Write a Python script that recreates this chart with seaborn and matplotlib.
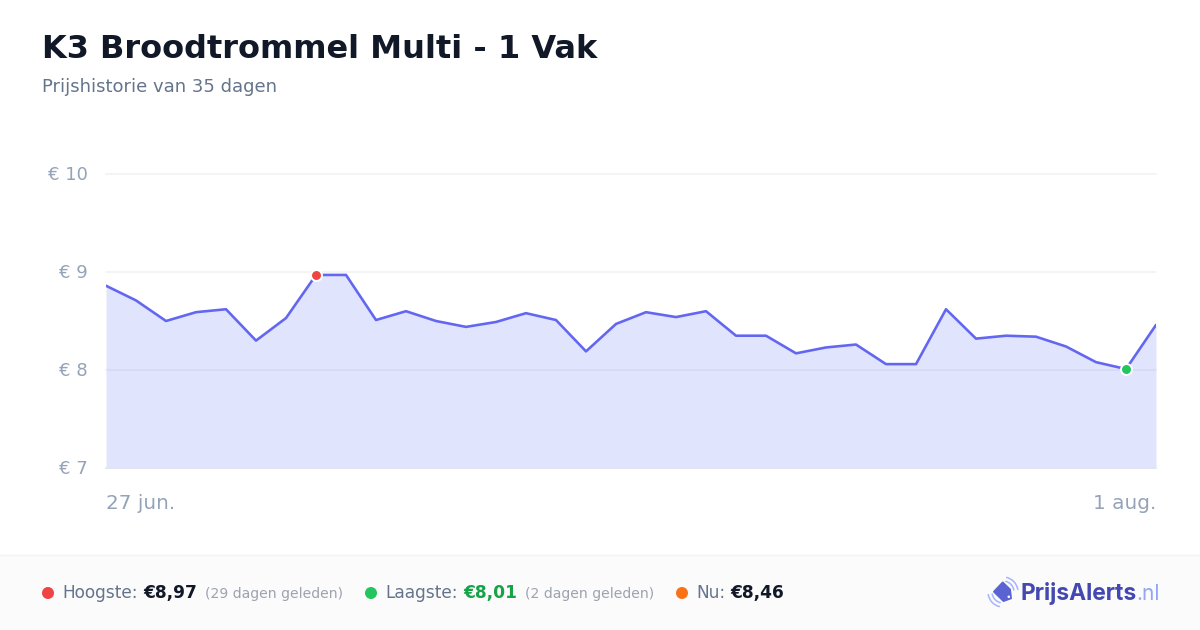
import matplotlib
matplotlib.use("Agg")
import matplotlib.pyplot as plt
from matplotlib.patches import Arc, Circle, Polygon, Rectangle
from matplotlib.transforms import ScaledTranslation
import numpy as np
import pandas as pd
import seaborn as sns

# Prices, one per day from 27 jun. to 1 aug.
prices = [8.86, 8.71, 8.50, 8.59, 8.62, 8.30, 8.53, 8.97, 8.97, 8.51, 8.60, 8.50,
          8.44, 8.49, 8.58, 8.51, 8.19, 8.47, 8.59, 8.54, 8.60, 8.35, 8.35, 8.17,
          8.23, 8.26, 8.06, 8.06, 8.62, 8.32, 8.35, 8.34, 8.24, 8.08, 8.01, 8.46]
y_ticks = [7, 8, 9, 10]
y_labels = ["€ 7", "€ 8", "€ 9", "€ 10"]
x_labels = ["27 jun.", "1 aug."]
title = "K3 Broodtrommel Multi - 1 Vak"
subtitle = "Prijshistorie van 35 dagen"

df = pd.DataFrame({"day": np.arange(len(prices)), "price": prices})
i_high = df["price"].idxmax()
i_low = df["price"].idxmin()

sns.set_theme(style="white")
plt.rcParams["font.family"] = ["DejaVu Sans"]

PX = 72 / 100  # css pixels to points at dpi 100
LINE = "#6366f1"
MUTED = "#94a3b8"
SLATE = "#64748b"
DARK = "#111827"

fig = plt.figure(figsize=(12, 6.3), dpi=100, facecolor="white")

# overlay in pixel coordinates for the header, footer and logo
bg = fig.add_axes([0, 0, 1, 1], zorder=0)
bg.set_xlim(0, 1200)
bg.set_ylim(630, 0)
bg.axis("off")
bg.add_patch(Rectangle((0, 555), 1200, 75, fc="#fbfbfc", ec="none"))
bg.plot([0, 1200], [554.5, 554.5], color="#f3f4f6", lw=1)

bg.text(42, 58, title, fontsize=32 * PX, fontweight="bold", color=DARK)
bg.text(42, 92, subtitle, fontsize=17.95 * PX, color=SLATE)

# chart
ax = fig.add_axes([106 / 1200, 162 / 630, 1050 / 1200, 294 / 630], zorder=1)
ax.patch.set_alpha(0)
ax.set_xlim(0, len(prices) - 1)
ax.set_ylim(7, 10)
for t in y_ticks[1:]:
    ax.axhline(t, color="#f4f4f7", lw=1.4, zorder=1, clip_on=False)
ax.fill_between(df["day"], df["price"], 7, color="#6478f0", alpha=0.2, lw=0, zorder=2)
ax.axhline(7, color="#e2e4f2", lw=1.4, zorder=2.5, clip_on=False)
sns.lineplot(data=df, x="day", y="price", color=LINE, lw=2.6 * PX, ax=ax, zorder=3, errorbar=None)
ax.lines[-1].set_solid_joinstyle("round")
sns.scatterplot(x=[df["day"][i_high]], y=[df["price"][i_high]], color="#ef4444", s=62,
                edgecolor="white", linewidth=1.4, ax=ax, zorder=4, clip_on=False)
sns.scatterplot(x=[df["day"][i_low]], y=[df["price"][i_low]], color="#22c55e", s=62,
                edgecolor="white", linewidth=1.4, ax=ax, zorder=4, clip_on=False)

sns.despine(ax=ax, left=True, bottom=True)
ax.set_xlabel("")
ax.set_ylabel("")
ax.set_yticks(y_ticks, y_labels)
ax.set_xticks([0, len(prices) - 1], x_labels)
ax.tick_params(axis="y", length=0, labelsize=18 * PX, labelcolor=MUTED, pad=18 * PX)
ax.tick_params(axis="x", length=0, labelsize=20 * PX, labelcolor=MUTED, pad=26 * PX)
ax.get_xticklabels()[0].set_ha("left")
ax.get_xticklabels()[1].set_ha("right")
for lab in ax.get_yticklabels():
    lab.set_transform(lab.get_transform() + ScaledTranslation(0, 1 / 100, fig.dpi_scale_trans))

# footer
base = 598
bg.add_patch(Circle((48, 593), 6, fc="#ef4444", ec="none"))
bg.text(62, base, "Hoogste:", fontsize=17 * PX, color=SLATE)
bg.text(143, base, "€8,97", fontsize=17 * PX, fontweight="bold", color=DARK)
bg.text(205, base, "(29 dagen geleden)", fontsize=14 * PX, color="#9ca3af")
bg.add_patch(Circle((371, 593), 6, fc="#22c55e", ec="none"))
bg.text(385, base, "Laagste:", fontsize=17 * PX, color=SLATE)
bg.text(463, base, "€8,01", fontsize=17 * PX, fontweight="bold", color="#16a34a")
bg.text(525, base, "(2 dagen geleden)", fontsize=14 * PX, color="#9ca3af")
bg.add_patch(Circle((682, 593), 6, fc="#f97316", ec="none"))
bg.text(696, base, "Nu:", fontsize=17 * PX, color=SLATE)
bg.text(730, base, "€8,46", fontsize=17 * PX, fontweight="bold", color=DARK)

# logo
bg.add_patch(Polygon([(1002.7, 582.5), (994, 591.7), (1003.5, 601), (1011, 598.3), (1010, 589.5)],
                     closed=True, fc="#5b63d3", ec="#5b63d3", lw=1.4, joinstyle="round"))
bg.add_patch(Circle((1008.8, 596.8), 1.3, fc="white", ec="none"))
for r in (11, 15):
    bg.add_patch(Arc((1003, 592), 2 * r, 2 * r, theta1=-78, theta2=-8, color="#a5b4fc", lw=1.1))
    bg.add_patch(Arc((1003, 592), 2 * r, 2 * r, theta1=102, theta2=172, color="#a5b4fc", lw=1.1))
bg.text(1021, 600, "PrijsAlerts", fontsize=22.8 * PX, fontweight="bold", color="#4349b0", family="Inter")
bg.text(1136, 600, ".nl", fontsize=21 * PX, color="#93a5f5", family="Inter")

fig.savefig("out.png", dpi=100)
